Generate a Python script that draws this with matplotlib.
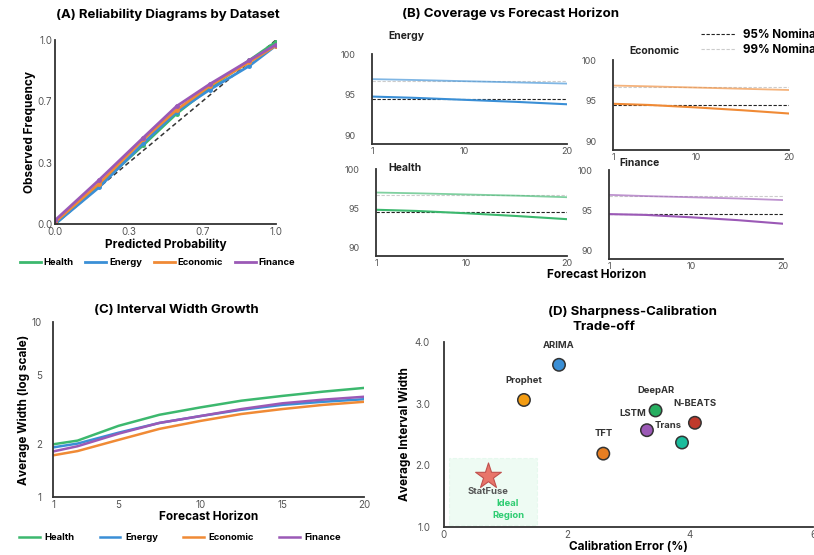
import numpy as np
import matplotlib
matplotlib.use("Agg")
import matplotlib.pyplot as plt
from matplotlib.lines import Line2D

plt.rcParams['font.family'] = ['Inter', 'DejaVu Sans']

W, H = 814, 555

# ---- data ----
datasets = ['Health', 'Energy', 'Economic', 'Finance']
colors = {'Health': '#3cb86e', 'Energy': '#3a8fd6', 'Economic': '#f08a35', 'Finance': '#9b59b6'}

# (A) reliability
rel_x = [0.0, 0.2, 0.4, 0.55, 0.7, 0.88, 1.0]
rel_y = {
    'Health':   [0.00, 0.21, 0.43, 0.60, 0.74, 0.89, 0.99],
    'Energy':   [0.00, 0.20, 0.44, 0.61, 0.73, 0.86, 0.97],
    'Economic': [0.01, 0.22, 0.46, 0.62, 0.75, 0.88, 0.97],
    'Finance':  [0.02, 0.24, 0.47, 0.64, 0.76, 0.89, 0.975],
}

# (B) coverage
cov_h = [1, 5, 10, 15, 20]
cov_99 = {
    'Energy':   [96.9, 96.8, 96.65, 96.5, 96.35],
    'Economic': [96.85, 96.75, 96.6, 96.45, 96.3],
    'Health':   [97.0, 96.9, 96.75, 96.6, 96.4],
    'Finance':  [96.9, 96.75, 96.6, 96.45, 96.25],
}
cov_95 = {
    'Energy':   [94.75, 94.6, 94.35, 94.1, 93.8],
    'Economic': [94.6, 94.45, 94.15, 93.8, 93.4],
    'Health':   [94.8, 94.65, 94.35, 94.0, 93.6],
    'Finance':  [94.5, 94.4, 94.1, 93.75, 93.3],
}
nominal_95 = 94.5
nominal_99 = 96.7

# (C) interval width
wid_h = [1, 2.5, 5, 7.5, 10, 12.5, 15, 17.5, 20]
wid = {
    'Health':   [2.0, 2.1, 2.55, 2.95, 3.25, 3.55, 3.78, 4.0, 4.2],
    'Energy':   [1.92, 2.02, 2.33, 2.65, 2.9, 3.15, 3.36, 3.5, 3.62],
    'Economic': [1.73, 1.83, 2.12, 2.45, 2.72, 2.98, 3.18, 3.36, 3.5],
    'Finance':  [1.82, 1.95, 2.3, 2.65, 2.9, 3.18, 3.43, 3.6, 3.74],
}

# (D) sharpness vs calibration
models = ['ARIMA', 'Prophet', 'DeepAR', 'N-BEATS', 'LSTM', 'Trans', 'TFT']
calib_err = [1.87, 1.30, 3.44, 4.08, 3.30, 3.87, 2.59]
avg_width = [3.63, 3.06, 2.89, 2.69, 2.57, 2.37, 2.19]
model_colors = ['#3a8fd6', '#f39c12', '#27ae60', '#c0392b', '#9b59b6', '#1abc9c', '#e67e22']
label_offsets = [(0, 11), (0, 11), (0, 11), (0, 11), (-10, 9), (-10, 9), (0, 11)]
statfuse = (0.71, 1.83)


def box(l, t, r, b):
    return [l / W, 1 - b / H, (r - l) / W, (b - t) / H]


def style(ax, fs=7):
    for s in ['top', 'right']:
        ax.spines[s].set_visible(False)
    for s in ['left', 'bottom']:
        ax.spines[s].set_linewidth(1.3)
        ax.spines[s].set_color('#333333')
    ax.tick_params(length=0, labelsize=fs, labelcolor='#555555', pad=2)


fig = plt.figure(figsize=(W / 100, H / 100), dpi=100)

# ---- (A) ----
axA = fig.add_axes(box(55, 40, 276, 224))
axA.plot([0, 1], [0, 1], ls='--', color='#333333', lw=1.1, dashes=(3, 2))
for d in datasets:
    axA.plot(rel_x, rel_y[d], color=colors[d], lw=2, marker='o', ms=2.5)
axA.set_xlim(0, 1)
axA.set_ylim(0, 1)
tk = np.linspace(0, 1, 4)
axA.set_xticks(tk, [f'{v:.1f}' for v in tk])
axA.set_yticks(tk, [f'{v:.1f}' for v in tk])
style(axA)
axA.set_xlabel('Predicted Probability', fontsize=8.5, fontweight='bold', labelpad=1)
axA.set_ylabel('Observed Frequency', fontsize=8.5, fontweight='bold', labelpad=1)
fig.text(168 / W, 1 - 15 / H, '(A) Reliability Diagrams by Dataset', ha='center', va='center',
         fontsize=9.5, fontweight='bold')
legA = [Line2D([], [], color=colors[d], lw=2, label=d) for d in datasets]
fig.legend(handles=legA, loc='lower left', ncol=4, mode='expand', frameon=False,
           bbox_to_anchor=(15 / W, 1 - 272 / H, 285 / W, 16 / H), prop={'size': 6.8, 'weight': 'bold'},
           handlelength=2.2, handletextpad=0.3, borderpad=0)

# ---- (B) ----
b_boxes = {
    'Energy':   (372, 54, 567, 144),
    'Economic': (613, 60, 789, 150),
    'Health':   (376, 169, 567, 256),
    'Finance':  (609, 170, 783, 259),
}
b_titles = {'Energy': (406, 36), 'Economic': (654, 51), 'Health': (405, 168), 'Finance': (640, 163)}
for d in ['Energy', 'Economic', 'Health', 'Finance']:
    ax = fig.add_axes(box(*b_boxes[d]))
    h95 = ax.axhline(nominal_95, color='#222222', lw=0.8, ls='--', dashes=(3, 1.5), label='95% Nominal')
    h99 = ax.axhline(nominal_99, color='#cccccc', lw=0.8, ls='--', dashes=(3, 1.5), label='99% Nominal')
    ax.plot(cov_h, cov_99[d], color=colors[d], lw=1.3, alpha=0.65)
    ax.plot(cov_h, cov_95[d], color=colors[d], lw=1.5)
    ax.set_xlim(1, 20)
    ax.set_ylim(88.9, 100)
    ax.set_xticks([1, 10, 20])
    ax.set_yticks([90, 95, 100])
    style(ax, fs=6.5)
    ax.tick_params(axis='y', pad=12)
    tx, ty = b_titles[d]
    fig.text(tx / W, 1 - ty / H, d, ha='center', va='center', fontsize=7.5, fontweight='bold', color='#222222')

fig.text(511 / W, 1 - 14 / H, '(B) Coverage vs Forecast Horizon', ha='center', va='center',
         fontsize=9.5, fontweight='bold')
fig.text(597 / W, 1 - 275 / H, 'Forecast Horizon', ha='center', va='center', fontsize=8.5, fontweight='bold')
fig.legend(handles=[h95, h99], loc='upper left', bbox_to_anchor=(695 / W, 1 - 23 / H), frameon=False,
           prop={'size': 8.3, 'weight': 'bold'}, handlelength=3, handletextpad=0.7, borderpad=0,
           labelspacing=0.25)

# ---- (C) ----
axC = fig.add_axes(box(53, 322, 364, 497))
for d in datasets:
    axC.plot(wid_h, wid[d], color=colors[d], lw=1.8, label=d)
axC.set_yscale('log')
axC.set_ylim(1, 10)
axC.set_xlim(1, 20)
axC.set_yticks([1, 2, 5, 10], ['1', '2', '5', '10'])
axC.yaxis.set_minor_locator(plt.NullLocator())
axC.set_xticks([1, 5, 10, 15, 20])
style(axC)
axC.tick_params(axis='y', pad=8)
axC.set_xlabel('Forecast Horizon', fontsize=8.5, fontweight='bold', labelpad=1)
axC.set_ylabel('Average Width (log scale)', fontsize=8.5, fontweight='bold', labelpad=1)
fig.text(176 / W, 1 - 310 / H, '(C) Interval Width Growth', ha='center', va='center',
         fontsize=9.5, fontweight='bold')
fig.legend(*axC.get_legend_handles_labels(), loc='lower left', ncol=4, mode='expand', frameon=False,
           bbox_to_anchor=(14 / W, 1 - 547 / H, 332 / W, 16 / H), prop={'size': 6.8, 'weight': 'bold'},
           handlelength=2.2, handletextpad=0.5, borderpad=0)

# ---- (D) ----
axD = fig.add_axes(box(444, 342, 813, 527))
axD.add_patch(plt.Rectangle((0.08, 1.03), 1.43, 1.09, facecolor='#2ecc71', alpha=0.08,
                            edgecolor='#2ecc71', lw=0.8, ls='--'))
axD.text(1.04, 1.28, 'Ideal\nRegion', color='#2ecc71', fontsize=6.8, fontweight='bold',
         ha='center', va='center', linespacing=1.4)
axD.scatter(calib_err, avg_width, s=80, c=model_colors, edgecolors='#333333', linewidths=1.1, zorder=3)
for m, x, y, off in zip(models, calib_err, avg_width, label_offsets):
    axD.annotate(m, (x, y), xytext=off, textcoords='offset points', ha='center', va='bottom',
                 fontsize=6.8, fontweight='bold', color='#333333')
axD.scatter([statfuse[0]], [statfuse[1]], marker='*', s=380, color='#e8756a', edgecolors='#c0504d',
            linewidths=0.8, zorder=3)
axD.annotate('StatFuse', statfuse, xytext=(0, -8), textcoords='offset points', ha='center', va='top',
             fontsize=6.8, fontweight='bold', color='#555555')
axD.set_xlim(0, 6)
axD.set_ylim(1, 4)
axD.set_xticks([0, 2, 4, 6])
axD.set_yticks([1, 2, 3, 4], ['1.0', '2.0', '3.0', '4.0'])
style(axD)
axD.tick_params(axis='y', pad=10)
axD.set_xlabel('Calibration Error (%)', fontsize=8.5, fontweight='bold', labelpad=1)
axD.set_ylabel('Average Interval Width', fontsize=8.5, fontweight='bold', labelpad=3)
fig.text(632 / W, 1 - 312 / H, '(D) Sharpness-Calibration', ha='center', va='center',
         fontsize=9.5, fontweight='bold')
fig.text(604 / W, 1 - 327 / H, 'Trade-off', ha='center', va='center', fontsize=9.5, fontweight='bold')

fig.savefig('out.png', dpi=100)
